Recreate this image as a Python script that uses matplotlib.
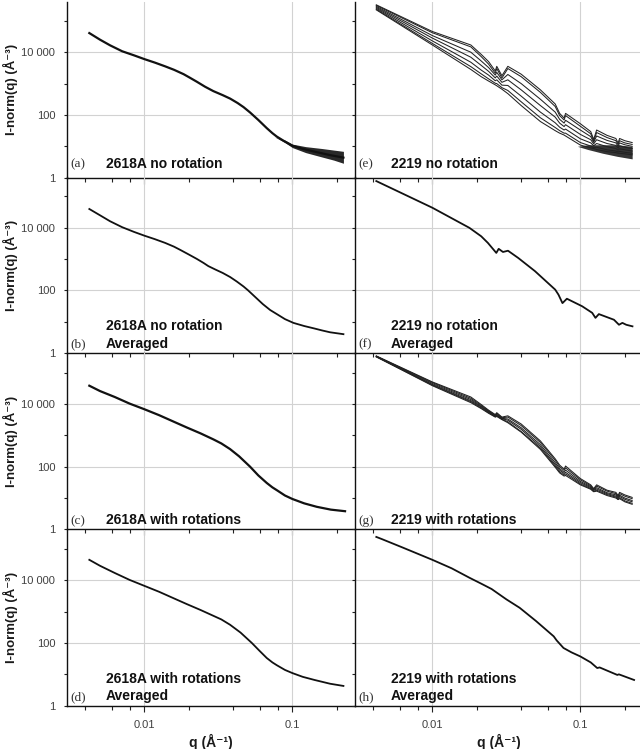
import numpy as np
import matplotlib
matplotlib.use("Agg")
import matplotlib.pyplot as plt
from matplotlib.ticker import FixedLocator, FixedFormatter, NullFormatter

plt.rcParams['font.family'] = ['Liberation Sans', 'DejaVu Sans']

# ---------------- data (log10 q [1/A], log10 I) ----------------
# (a) 2618A no rotation
a_logq = [-2.372, -2.30, -2.232, -2.15, -2.07, -2.0, -1.93, -1.86, -1.80, -1.735, -1.69, -1.646, -1.59, -1.534,
          -1.47, -1.42, -1.37, -1.33, -1.286, -1.23, -1.173, -1.135, -1.105, -1.05, -1.0, -0.93, -0.85, -0.745, -0.655]
a_logI = [4.61, 4.40, 4.22, 4.03, 3.90, 3.78, 3.67, 3.55, 3.44, 3.30, 3.18, 3.06, 2.90, 2.76,
          2.63, 2.52, 2.38, 2.25, 2.08, 1.84, 1.58, 1.42, 1.31, 1.15, 1.02, 0.92, 0.83, 0.72, 0.64]
a_band_logq = [-1.12, -1.05, -1.0, -0.91, -0.80, -0.72, -0.655]
a_band_lo = [1.30, 1.12, 0.96, 0.80, 0.66, 0.56, 0.46]
a_band_hi = [1.30, 1.20, 1.07, 0.99, 0.93, 0.88, 0.84]
# (b) 2618A no rotation averaged
b_logq = [-2.372, -2.30, -2.232, -2.15, -2.07, -2.0, -1.93, -1.86, -1.80, -1.759, -1.70, -1.646, -1.60, -1.568,
          -1.52, -1.47, -1.42, -1.376, -1.33, -1.30, -1.25, -1.20, -1.15, -1.105, -1.05, -0.993, -0.92, -0.85,
          -0.80, -0.745, -0.70, -0.655]
b_logI = [4.59, 4.39, 4.20, 4.01, 3.86, 3.74, 3.63, 3.51, 3.39, 3.29, 3.14, 3.00, 2.87, 2.77,
          2.66, 2.55, 2.42, 2.28, 2.12, 2.00, 1.78, 1.56, 1.37, 1.24, 1.08, 0.96, 0.86, 0.78,
          0.72, 0.66, 0.63, 0.60]
# (c) 2618A with rotations
c_logq = [-2.372, -2.30, -2.2, -2.10, -2.0, -1.90, -1.80, -1.714, -1.62, -1.534, -1.48, -1.421, -1.36, -1.286,
          -1.23, -1.173, -1.135, -1.105, -1.05, -1.0, -0.92, -0.835, -0.74, -0.644]
c_logI = [4.58, 4.41, 4.22, 4.01, 3.83, 3.64, 3.43, 3.25, 3.06, 2.87, 2.74, 2.56, 2.33, 2.00,
          1.72, 1.48, 1.34, 1.25, 1.08, 0.97, 0.83, 0.72, 0.63, 0.58]
# (d) 2618A with rotations averaged
d_logq = [-2.372, -2.30, -2.2, -2.10, -2.0, -1.90, -1.80, -1.714, -1.62, -1.55, -1.48, -1.421, -1.35, -1.274,
          -1.22, -1.173, -1.135, -1.105, -1.05, -1.0, -0.93, -0.85, -0.745, -0.655]
d_logI = [4.65, 4.46, 4.23, 4.01, 3.82, 3.63, 3.42, 3.24, 3.05, 2.90, 2.75, 2.58, 2.33, 2.00,
          1.74, 1.52, 1.38, 1.29, 1.14, 1.04, 0.92, 0.82, 0.70, 0.63]

# (e) 2219 no rotation: individual frames
e_logq = [-2.379, -2.0, -1.74, -1.67, -1.62, -1.575, -1.565, -1.53, -1.49, -1.40, -1.27, -1.17, -1.14,
          -1.11, -1.10, -1.0, -0.93, -0.91, -0.89, -0.82, -0.76, -0.745, -0.735, -0.70, -0.65]
e1_logI = [5.51, 4.66, 4.23, 3.93, 3.70, 3.40, 3.55, 3.25, 3.55, 3.30, 2.80, 2.35, 2.05, 1.90, 2.05, 1.72, 1.47, 1.22, 1.52, 1.35, 1.25, 1.10, 1.25, 1.18, 1.12]
e2_logI = [5.49, 4.62, 4.17, 3.86, 3.62, 3.33, 3.48, 3.18, 3.48, 3.22, 2.72, 2.27, 1.98, 1.84, 1.98, 1.64, 1.40, 1.17, 1.44, 1.28, 1.18, 1.05, 1.18, 1.11, 1.06]
e3_logI = [5.46, 4.53, 4.00, 3.72, 3.51, 3.27, 3.36, 3.12, 3.29, 3.00, 2.50, 2.09, 1.86, 1.74, 1.83, 1.52, 1.31, 1.13, 1.33, 1.19, 1.11, 1.00, 1.11, 1.05, 1.00]
e4_logI = [5.43, 4.45, 3.84, 3.58, 3.39, 3.18, 3.24, 3.04, 3.12, 2.80, 2.30, 1.93, 1.74, 1.63, 1.69, 1.38, 1.21, 1.08, 1.21, 1.09, 1.03, 0.94, 1.02, 0.97, 0.93]
e5_logI = [5.40, 4.36, 3.68, 3.43, 3.27, 3.09, 3.12, 2.95, 2.94, 2.60, 2.09, 1.75, 1.61, 1.52, 1.55, 1.24, 1.11, 1.02, 1.09, 0.99, 0.93, 0.88, 0.92, 0.89, 0.85]
e6_logI = [5.37, 4.28, 3.54, 3.31, 3.15, 3.01, 3.00, 2.87, 2.78, 2.42, 1.91, 1.60, 1.50, 1.42, 1.42, 1.12, 1.01, 0.96, 0.97, 0.89, 0.85, 0.82, 0.84, 0.81, 0.78]
e7_logI = [5.35, 4.23, 3.45, 3.22, 3.08, 2.96, 2.93, 2.82, 2.68, 2.30, 1.79, 1.50, 1.42, 1.36, 1.33, 1.04, 0.95, 0.93, 0.90, 0.83, 0.80, 0.78, 0.78, 0.76, 0.73]
e_band_logq = [-1.02, -0.95, -0.85, -0.75, -0.65]
e_band_lo = [1.00, 0.90, 0.78, 0.68, 0.60]
e_band_hi = [1.00, 1.05, 1.05, 1.05, 1.00]

# (f) 2219 no rotation averaged
f_logq = [-2.379, -2.0, -1.75, -1.670, -1.625, -1.568, -1.552, -1.523, -1.489, -1.42, -1.307, -1.170, -1.148,
          -1.121, -1.091, -0.988, -0.92, -0.898, -0.875, -0.773, -0.739, -0.716, -0.69, -0.648]
f_logI = [5.48, 4.63, 3.99, 3.72, 3.51, 3.19, 3.32, 3.22, 3.26, 3.03, 2.61, 2.02, 1.86,
          1.59, 1.73, 1.49, 1.28, 1.12, 1.24, 1.06, 0.90, 0.96, 0.90, 0.85]

# (g) 2219 with rotations: individual frames
g_logq = [-2.379, -2.0, -1.74, -1.67, -1.62, -1.575, -1.565, -1.53, -1.49, -1.40, -1.27, -1.17, -1.14,
          -1.11, -1.10, -1.0, -0.93, -0.91, -0.89, -0.82, -0.76, -0.745, -0.735, -0.70, -0.65]
g1_logI = [5.53, 4.70, 4.22, 3.98, 3.80, 3.66, 3.72, 3.58, 3.62, 3.36, 2.82, 2.25, 2.05, 1.92, 2.02, 1.62, 1.42, 1.30, 1.42, 1.25, 1.18, 1.08, 1.18, 1.10, 1.02]
g2_logI = [5.52, 4.68, 4.18, 3.95, 3.78, 3.64, 3.70, 3.56, 3.58, 3.31, 2.77, 2.20, 2.00, 1.88, 1.96, 1.58, 1.39, 1.28, 1.38, 1.22, 1.14, 1.05, 1.14, 1.06, 0.98]
g3_logI = [5.52, 4.65, 4.14, 3.92, 3.76, 3.62, 3.67, 3.54, 3.52, 3.24, 2.70, 2.13, 1.94, 1.82, 1.89, 1.53, 1.36, 1.26, 1.33, 1.17, 1.10, 1.02, 1.09, 1.00, 0.92]
g4_logI = [5.51, 4.62, 4.10, 3.90, 3.74, 3.61, 3.64, 3.53, 3.48, 3.19, 2.64, 2.07, 1.89, 1.78, 1.82, 1.49, 1.33, 1.24, 1.29, 1.14, 1.06, 0.99, 1.05, 0.96, 0.88]
g5_logI = [5.50, 4.60, 4.07, 3.87, 3.72, 3.59, 3.62, 3.51, 3.43, 3.12, 2.59, 2.02, 1.84, 1.73, 1.77, 1.45, 1.30, 1.21, 1.25, 1.11, 1.03, 0.96, 1.01, 0.91, 0.83]
g6_logI = [5.50, 4.58, 4.04, 3.85, 3.70, 3.58, 3.60, 3.50, 3.40, 3.10, 2.55, 1.98, 1.80, 1.70, 1.72, 1.42, 1.28, 1.20, 1.22, 1.08, 1.00, 0.95, 0.98, 0.88, 0.80]

# (h) 2219 with rotations averaged
h_logq = [-2.379, -2.341, -2.2, -2.0, -1.87, -1.75, -1.67, -1.60, -1.50, -1.48, -1.41, -1.30, -1.18, -1.16,
          -1.114, -1.06, -1.0, -0.93, -0.886, -0.87, -0.80, -0.75, -0.74, -0.637]
h_logI = [5.38, 5.31, 5.04, 4.65, 4.38, 4.08, 3.89, 3.72, 3.39, 3.33, 3.12, 2.70, 2.21, 2.08,
          1.84, 1.70, 1.57, 1.38, 1.20, 1.22, 1.08, 0.98, 1.00, 0.82]

x_major = [0.01, 0.1]
x_major_labels = ['0.01', '0.1']
x_minor = [0.004, 0.006, 0.008, 0.02, 0.04, 0.06, 0.08, 0.2]
y_major = [1, 100, 10000]
y_major_labels = ['1', '100', '10 000']
y_minor = [10, 1000, 1e5]

titles = {
    'a': ['2618A no rotation'], 'b': ['2618A no rotation', 'Averaged'],
    'c': ['2618A with rotations'], 'd': ['2618A with rotations', 'Averaged'],
    'e': ['2219 no rotation'], 'f': ['2219 no rotation', 'Averaged'],
    'g': ['2219 with rotations'], 'h': ['2219 with rotations', 'Averaged'],
}


def P(v):
    return 10 ** np.asarray(v, dtype=float)


W, H = 640, 749
fig = plt.figure(figsize=(W / 100, H / 100), dpi=100)
row_bottoms_px = [177.7, 353.0, 529.4, 705.7]
panel_h_px = 176.0
col_left_px = [67.0, 355.0]
panel_w_px = 288.0

axes = {}
letters = [['a', 'e'], ['b', 'f'], ['c', 'g'], ['d', 'h']]
for r in range(4):
    for c in range(2):
        ax = fig.add_axes([col_left_px[c] / W, 1 - row_bottoms_px[r] / H, panel_w_px / W, panel_h_px / H])
        ax.set_facecolor('none')
        ax.set_xscale('log')
        ax.set_yscale('log')
        ax.set_xlim(0.003, 0.265)
        ax.set_ylim(1, 10 ** 5.61)
        ax.xaxis.set_major_locator(FixedLocator(x_major))
        ax.xaxis.set_minor_locator(FixedLocator(x_minor))
        ax.yaxis.set_major_locator(FixedLocator(y_major))
        ax.yaxis.set_minor_locator(FixedLocator(y_minor))
        ax.xaxis.set_minor_formatter(NullFormatter())
        ax.yaxis.set_minor_formatter(NullFormatter())
        if r == 3:
            ax.xaxis.set_major_formatter(FixedFormatter(x_major_labels))
        else:
            ax.xaxis.set_major_formatter(NullFormatter())
        if c == 0:
            ax.yaxis.set_major_formatter(FixedFormatter(y_major_labels))
        else:
            ax.yaxis.set_major_formatter(NullFormatter())
        ax.grid(which='major', color='#d2d2d2', lw=0.8)
        ax.set_axisbelow(True)
        for s in ['top', 'right']:
            ax.spines[s].set_visible(False)
        for s in ['left', 'bottom']:
            ax.spines[s].set_linewidth(1.0)
            ax.spines[s].set_color('#111111')
        ax.tick_params(axis='x', which='major', direction='out', length=4, width=0.8, pad=6.5,
                       labelsize=8, labelcolor='#404040', color='#222222')
        ax.tick_params(axis='x', which='minor', direction='out', length=3, width=0.8, color='#222222')
        ax.tick_params(axis='y', which='both', direction='out', length=2.5, width=0.8, pad=6,
                       labelsize=8, labelcolor='#404040', color='#222222')
        if c == 0:
            ax.set_ylabel('I-norm(q) (Å⁻³)', fontweight='bold', fontsize=9.5, color='#1a1a1a')
            ax.yaxis.set_label_coords(-0.170, 0.5)
        if r == 3:
            ax.set_xlabel('q (Å⁻¹)', fontweight='bold', fontsize=10, color='#1a1a1a')
            ax.xaxis.set_label_coords(0.5, -0.160)
        axes[letters[r][c]] = ax

lc = '#111111'
# left column
axes['a'].plot(P(a_logq), P(a_logI), color=lc, lw=1.6)
axes['a'].fill_between(P(a_band_logq), P(a_band_lo), P(a_band_hi), color=lc, lw=0, alpha=0.9)
axes['b'].plot(P(b_logq), P(b_logI), color=lc, lw=1.3)
axes['c'].plot(P(c_logq), P(c_logI), color=lc, lw=1.6)
axes['d'].plot(P(d_logq), P(d_logI), color=lc, lw=1.3)
# right column
for arr in [e1_logI, e2_logI, e3_logI, e4_logI, e5_logI, e6_logI, e7_logI]:
    axes['e'].plot(P(e_logq), P(arr), color='#222222', lw=0.75)
axes['e'].fill_between(P(e_band_logq), P(e_band_lo), P(e_band_hi), color=lc, lw=0, alpha=0.85)
axes['f'].plot(P(f_logq), P(f_logI), color=lc, lw=1.3)
for arr in [g1_logI, g2_logI, g3_logI, g4_logI, g5_logI, g6_logI]:
    axes['g'].plot(P(g_logq), P(arr), color='#222222', lw=0.75)
axes['h'].plot(P(h_logq), P(h_logI), color=lc, lw=1.3)

# panel annotations
for r in range(4):
    for c in range(2):
        L = letters[r][c]
        ax = axes[L]
        lines = titles[L]
        tx = 39.0 / panel_w_px if c == 0 else 36.0 / panel_w_px
        if len(lines) == 1:
            base_px = 10.0 if r == 0 else 5.3
            bases = [base_px]
        else:
            bases = [23.0, 5.3]
        ax.text(3.0 / panel_w_px, bases[-1] / panel_h_px, '(' + L + ')', transform=ax.transAxes,
                family='Liberation Serif', fontsize=9.5, va='baseline', ha='left', color='#333333')
        for line, b in zip(lines, bases):
            ax.text(tx, b / panel_h_px, line, transform=ax.transAxes, fontweight='bold',
                    fontsize=10, va='baseline', ha='left', color='#111111')

fig.savefig('out.png', dpi=100)
